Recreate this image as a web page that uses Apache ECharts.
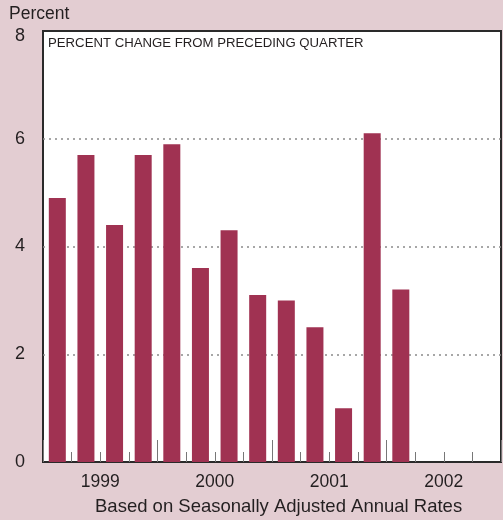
<!DOCTYPE html>
<html>
<head>
<meta charset="utf-8">
<script src="https://cdn.jsdelivr.net/npm/echarts@6/dist/echarts.min.js"></script>
<style>
  html, body { margin: 0; padding: 0; background: #e3cdd2; }
  #chart { width: 503px; height: 520px; }
</style>
</head>
<body>
<div id="chart"></div>
<script>
// Quarterly slots 1999 Q1 .. 2002 Q4
const quarters = [
  '1999Q1', '1999Q2', '1999Q3', '1999Q4',
  '2000Q1', '2000Q2', '2000Q3', '2000Q4',
  '2001Q1', '2001Q2', '2001Q3', '2001Q4',
  '2002Q1', '2002Q2', '2002Q3', '2002Q4'
];
const years = ['1999', '2000', '2001', '2002'];
// Percent change from preceding quarter (seasonally adjusted annual rates)
const changePct = [4.9, 5.7, 4.4, 5.7, 5.9, 3.6, 4.3, 3.1, 3.0, 2.5, 1.0, 6.1, 3.2];
const yTicks = { min: 0, max: 8, step: 2 };

const textColor = '#231f20';
const font = 'Liberation Sans, Arial, Helvetica, sans-serif';

const chart = echarts.init(document.getElementById('chart'), null, { renderer: 'canvas' });

chart.setOption({
  backgroundColor: '#e3cdd2',
  animation: false,
  title: [
    { text: 'Percent', left: 9, top: 5, padding: 0,
      textStyle: { fontSize: 17.5, fontWeight: 'normal', color: textColor, fontFamily: font } },
    { text: 'PERCENT CHANGE FROM PRECEDING QUARTER', left: 48, top: 37, padding: 0,
      textStyle: { fontSize: 13.2, fontWeight: 'normal', color: textColor, fontFamily: font } }
  ],
  grid: {
    left: 43, right: 2, top: 31, bottom: 58,
    show: true, backgroundColor: '#ffffff', borderColor: '#2a2a2a', borderWidth: 2
  },
  xAxis: [
    { // quarter axis carrying the bars, short quarter ticks
      type: 'category', data: quarters, boundaryGap: true,
      axisLine: { show: true, lineStyle: { color: '#2a2a2a', width: 2 } },
      axisTick: { show: true, inside: true, length: 10, interval: 0,
        lineStyle: { color: '#777', width: 1 } },
      axisLabel: { show: false }, splitLine: { show: false }
    },
    { // taller ticks at year boundaries
      type: 'category', data: quarters, boundaryGap: true, position: 'bottom',
      axisLine: { show: false },
      axisTick: { show: true, inside: true, length: 22,
        interval: function (i) { return i % 4 === 0; },
        lineStyle: { color: '#777', width: 1 } },
      axisLabel: { show: false }, splitLine: { show: false }
    },
    { // year labels centred under each group of quarters
      type: 'category', data: years, boundaryGap: true, position: 'bottom',
      axisLine: { show: false }, axisTick: { show: false },
      axisLabel: { show: true, fontSize: 17.5, color: textColor, fontFamily: font, margin: 11 },
      splitLine: { show: false }
    }
  ],
  yAxis: {
    type: 'value', min: yTicks.min, max: yTicks.max, interval: yTicks.step,
    axisLine: { show: false }, axisTick: { show: false },
    axisLabel: {
      fontSize: 18, color: textColor, fontFamily: font, margin: 18,
      formatter: function (v) { return v === yTicks.max ? '{top|' + v + '}' : String(v); },
      rich: { top: { fontSize: 18, color: textColor, fontFamily: font, padding: [10, 0, 0, 0] } }
    },
    splitLine: { show: true, showMinLine: false, showMaxLine: false,
      lineStyle: { type: [2, 4], color: '#8a8a8a', width: 1.5 } }
  },
  graphic: [
    { type: 'text', left: 95, top: 497,
      style: { text: 'Based on Seasonally Adjusted Annual Rates', fontSize: 18.5,
        fill: textColor, fontFamily: font } }
  ],
  series: [{
    type: 'bar', xAxisIndex: 0, data: changePct, barWidth: 17,
    itemStyle: { color: '#a03252' }, z: 3
  }]
});
</script>
</body>
</html>
